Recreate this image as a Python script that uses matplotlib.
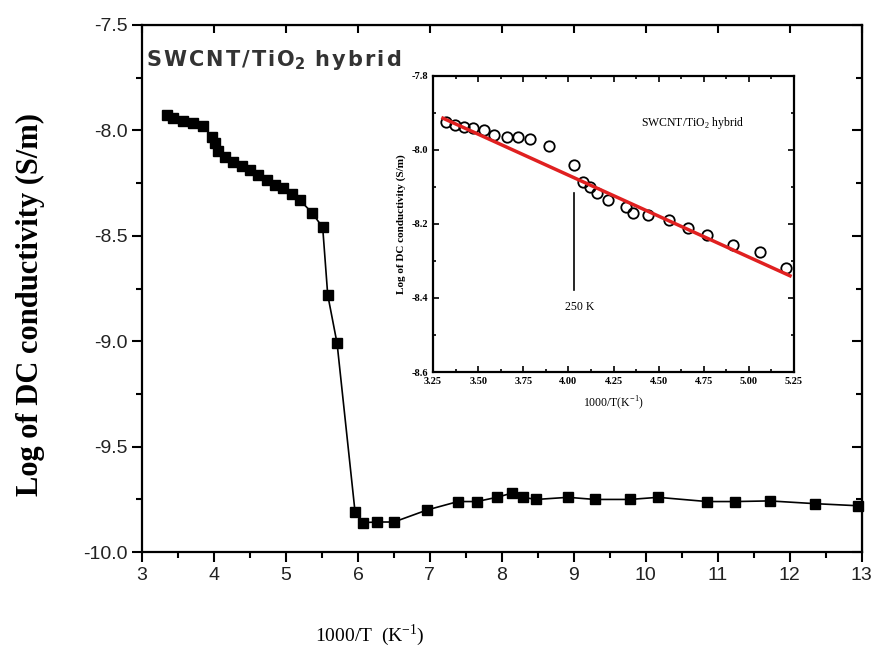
import numpy as np
import matplotlib
matplotlib.use('Agg')
import matplotlib.pyplot as plt
from matplotlib.ticker import MultipleLocator

plt.rcParams['axes.unicode_minus'] = False
plt.rcParams['mathtext.fontset'] = 'custom'
plt.rcParams['mathtext.rm'] = 'Liberation Serif'

# main plot data: 1000/T vs log conductivity
x_main = [3.35, 3.43, 3.57, 3.71, 3.85, 3.97, 4.01, 4.06, 4.15, 4.26, 4.39, 4.50,
          4.61, 4.73, 4.85, 4.96, 5.08, 5.19, 5.36, 5.51, 5.58, 5.71, 5.96, 6.07,
          6.26, 6.50, 6.96, 7.39, 7.65, 7.93, 8.14, 8.29, 8.48, 8.92, 9.29, 9.78,
          10.17, 10.85, 11.24, 11.72, 12.35, 12.95]
y_main = [-7.927, -7.94, -7.955, -7.965, -7.98, -8.03, -8.06, -8.10, -8.125, -8.15,
          -8.17, -8.19, -8.21, -8.235, -8.26, -8.275, -8.30, -8.33, -8.39, -8.46,
          -8.78, -9.01, -9.81, -9.86, -9.857, -9.857, -9.80, -9.76, -9.76, -9.74,
          -9.72, -9.74, -9.75, -9.74, -9.75, -9.75, -9.74, -9.76, -9.76, -9.757,
          -9.77, -9.78]

# inset data
x_ins = [3.32, 3.37, 3.42, 3.47, 3.53, 3.59, 3.66, 3.72, 3.79, 3.89, 4.03, 4.08,
         4.12, 4.16, 4.22, 4.32, 4.36, 4.44, 4.56, 4.66, 4.77, 4.91, 5.06, 5.205]
y_ins = [-7.925, -7.932, -7.938, -7.94, -7.946, -7.96, -7.965, -7.965, -7.97, -7.99,
         -8.04, -8.087, -8.10, -8.116, -8.135, -8.154, -8.17, -8.176, -8.19, -8.21,
         -8.23, -8.257, -8.276, -8.32]
fit_x = [3.305, 5.228]
fit_y = [-7.914, -8.34]

fig = plt.figure(figsize=(8.74, 6.55), dpi=100)
ax = fig.add_axes([0.1625, 0.157, 0.8235, 0.805])

ax.plot(x_main, y_main, '-', color='black', lw=1.2, marker='s', markersize=7.5,
        markerfacecolor='black', markeredgecolor='black', clip_on=False, zorder=3)
ax.set_xlim(3, 13)
ax.set_ylim(-10.0, -7.5)
ax.xaxis.set_major_locator(MultipleLocator(1))
ax.xaxis.set_minor_locator(MultipleLocator(0.5))
ax.yaxis.set_major_locator(MultipleLocator(0.5))
ax.yaxis.set_minor_locator(MultipleLocator(0.25))
ax.yaxis.set_major_formatter(matplotlib.ticker.FormatStrFormatter('%.1f'))
ax.tick_params(which='both', direction='out', width=1.5, top=False, right=False)
ax.tick_params(which='major', length=7, labelsize=14, labelcolor='#222222')
ax.tick_params(which='minor', length=4)
for s in ax.spines.values():
    s.set_linewidth(1.6)

# mirrored inward ticks on top/right
axt = ax.secondary_xaxis('top')
axt.xaxis.set_major_locator(MultipleLocator(1))
axt.tick_params(direction='in', length=6, width=1.5, labeltop=False)
axr = ax.secondary_yaxis('right')
axr.yaxis.set_major_locator(MultipleLocator(0.5))
axr.yaxis.set_minor_locator(MultipleLocator(0.25))
axr.tick_params(which='both', direction='in', width=1.5, labelright=False)
axr.tick_params(which='major', length=7)
axr.tick_params(which='minor', length=4)

for lab in ax.get_xticklabels() + ax.get_yticklabels():
    lab.set_family('Liberation Sans')

sp = '\u200a'
titel = sp.join('SWCNT/TiO') + '$_\\mathbf{2}$' + sp + ' ' + sp.join('hybrid')
ax.text(0.005, 0.957, titel, transform=ax.transAxes,
        fontsize=15, fontweight='bold', color='#333333', va='top', ha='left',
        family='DejaVu Sans')

fig.text(30 / 874, 1 - 305 / 655, 'Log of DC conductivity (S/m)', rotation=90,
         ha='center', va='center', fontsize=22, fontweight='bold',
         family='Liberation Serif')
fig.text(370 / 874, 1 - 635 / 655, '1000/T  (K$^{-1}$)', ha='center', va='center',
         fontsize=14, family='Liberation Serif')

# inset
ins = fig.add_axes([433 / 874, 1 - 372 / 655, 361 / 874, 296 / 655])
ins.plot(x_ins, y_ins, 'o', markersize=7.5, markerfacecolor='none', markeredgecolor='black',
         markeredgewidth=1.3, zorder=2)
ins.plot(fit_x, fit_y, '-', color='#e02020', lw=2.5, zorder=3)
ins.set_xlim(3.25, 5.25)
ins.set_ylim(-8.6, -7.8)
ins.xaxis.set_major_locator(MultipleLocator(0.25))
ins.xaxis.set_minor_locator(MultipleLocator(0.125))
ins.yaxis.set_major_locator(MultipleLocator(0.2))
ins.yaxis.set_minor_locator(MultipleLocator(0.1))
ins.xaxis.set_major_formatter(matplotlib.ticker.FormatStrFormatter('%.2f'))
ins.yaxis.set_major_formatter(matplotlib.ticker.FormatStrFormatter('%.1f'))
ins.tick_params(which='both', direction='in', top=True, right=True, width=1.2)
ins.tick_params(which='major', length=4, labelsize=7.5)
ins.tick_params(which='minor', length=2)
for lab in ins.get_xticklabels() + ins.get_yticklabels():
    lab.set_family('Liberation Serif')
    lab.set_fontweight('bold')
for s in ins.spines.values():
    s.set_linewidth(1.6)
ins.set_xlabel('1000/T(K$^{-1}$)', fontsize=8.5, family='Liberation Serif', labelpad=6)
ins.set_ylabel('Log of DC conductivity (S/m)', fontsize=8, fontweight='bold',
               family='Liberation Serif', labelpad=4)

ins.text(4.69, -7.927, 'SWCNT/TiO$_2$ hybrid', fontsize=8.5, family='Liberation Serif',
         ha='center', va='center')
ins.plot([4.03, 4.03], [-8.116, -8.378], '-', color='black', lw=1.2)
ins.text(4.06, -8.424, '250 K', fontsize=8.5, family='Liberation Serif', ha='center', va='center')

plt.savefig('out.png', dpi=100)
